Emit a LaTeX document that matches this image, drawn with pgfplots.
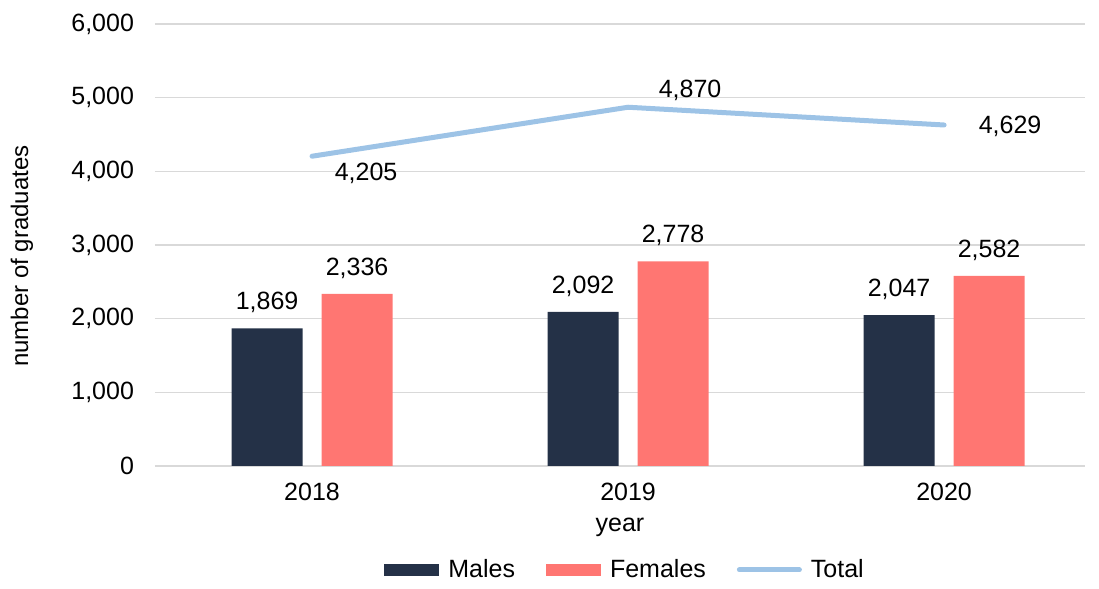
\documentclass[border=0pt]{standalone}
\usepackage{pgfplots}
\pgfplotsset{compat=1.18}
\usepackage{fontspec}
\setmainfont{Liberation Sans}
\definecolor{males}{HTML}{243147}
\definecolor{females}{HTML}{FF7672}
\definecolor{totalc}{HTML}{9DC3E6}
\definecolor{gridc}{HTML}{D9D9D9}
\newcommand\cf{\fontsize{12.5}{15}\selectfont}
\begin{document}
\begin{tikzpicture}
\begin{axis}[
  scale only axis, width=465pt, height=221pt,
  xmin=-0.497, xmax=2.446, ymin=0, ymax=6000,
  xtick={0,1,2}, xticklabels={2018,2019,2020},
  ytick={0,1000,...,6000},
  /pgf/number format/assume math mode=true,
  /pgf/number format/1000 sep={,},
  scaled y ticks=false,
  major tick length=0pt,
  axis line style={draw=none},
  ymajorgrids, grid style={gridc, line width=0.75pt},
  tick label style={font=\cf},
  xticklabel style={yshift=-5pt},
  yticklabel style={xshift=-7pt},
  xlabel={year}, ylabel={number of graduates},
  label style={font=\cf},
  xlabel style={at={(axis description cs:0.5,-0.138)}, anchor=center},
  ylabel style={at={(axis description cs:-0.143,0.475)}, anchor=center, font=\fontsize{12}{14}\selectfont},
  legend style={at={(axis description cs:0.5065,-0.235)}, anchor=center, draw=none, font=\cf,
    /tikz/every odd column/.append style={column sep=2.5pt},
    /tikz/every even column/.append style={column sep=13.5pt}},
  legend columns=3, legend cell align=left,
  nodes near coords style={font=\cf, anchor=base, text=black},
]
\addplot[ybar, bar width=35.5pt, bar shift=-22.5pt, fill=males, draw=none,
  nodes near coords, every node near coord/.append style={xshift=-22.5pt, yshift=9.2pt},
  legend image code/.code={\fill[males] (0pt,-3pt) rectangle (27.5pt,3pt);}]
  coordinates {(0,1869) (1,2092) (2,2047)};
\addlegendentry{Males}
\addplot[ybar, bar width=35.5pt, bar shift=22.5pt, fill=females, draw=none,
  nodes near coords, every node near coord/.append style={xshift=22.5pt, yshift=9.2pt},
  legend image code/.code={\fill[females] (0pt,-3pt) rectangle (27.5pt,3pt);}]
  coordinates {(0,2336) (1,2778) (2,2582)};
\addlegendentry{Females}
\addplot[totalc, line width=2.5pt, line cap=round, mark=none,
  legend image code/.code={\draw[totalc, line width=2.5pt, line cap=round] (0pt,0pt) -- (30pt,0pt);}]
  coordinates {(0,4205) (1,4870) (2,4629)};
\addlegendentry{Total}
\addplot[forget plot, draw=none, mark=none, nodes near coords,
  every node near coord/.append style={xshift=27pt, yshift=-12.3pt}]
  coordinates {(0,4205)};
\addplot[forget plot, draw=none, mark=none, nodes near coords,
  every node near coord/.append style={xshift=31pt, yshift=4.7pt}]
  coordinates {(1,4870)};
\addplot[forget plot, draw=none, mark=none, nodes near coords,
  every node near coord/.append style={xshift=33pt, yshift=-4.3pt}]
  coordinates {(2,4629)};
\end{axis}
\path (current axis.south west) ++(-77.5pt,-57pt) coordinate (bbA);
\path (current axis.north east) ++(7pt,12pt) coordinate (bbB);
\path (bbA) rectangle (bbB);
\end{tikzpicture}
\end{document}
